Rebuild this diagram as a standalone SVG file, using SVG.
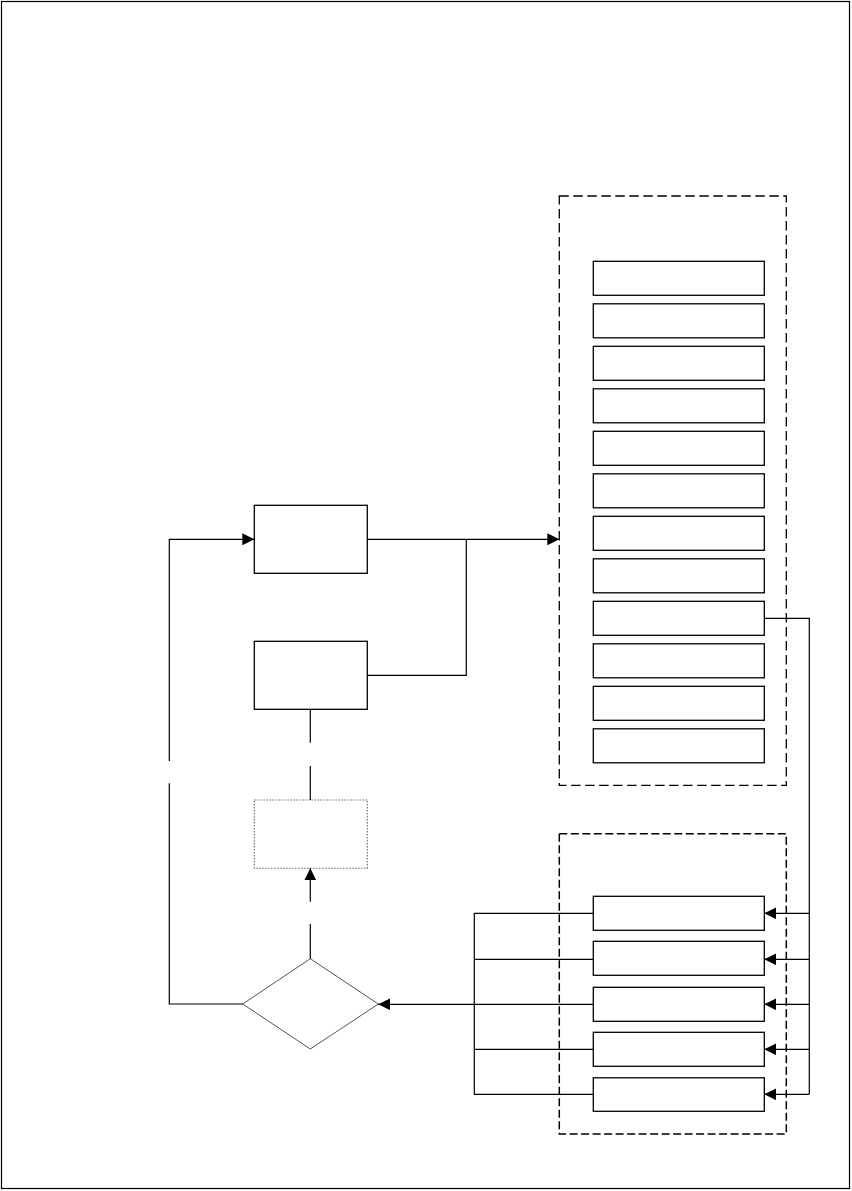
<svg xmlns="http://www.w3.org/2000/svg" width="852" height="1191" viewBox="0 0 852 1191">
<style>
.box{fill:#fff;stroke:#000;stroke-width:1.3}
.dot{fill:#fff;stroke:#666;stroke-width:1.1;stroke-dasharray:1.5 1.5}
.dia{fill:#fff;stroke:#555;stroke-width:1}
.cont{fill:none;stroke:#000;stroke-width:1.3;stroke-dasharray:9.5 4.5}
.cont2{fill:none;stroke:#000;stroke-width:1.5;stroke-dasharray:8 3.5}
.ln{fill:none;stroke:#000;stroke-width:1.2}
.arr{fill:none;stroke:#000;stroke-width:1.2;marker-end:url(#ah)}
</style>
<defs>
<marker id="ah" markerUnits="userSpaceOnUse" markerWidth="13" markerHeight="12" refX="12" refY="6" orient="auto">
<path d="M0,0 L12,6 L0,12 Z" fill="#000"/>
</marker>
</defs>
<rect x="1.5" y="1.5" width="848" height="1187" fill="#fff" stroke="#000" stroke-width="1.2"/>
<g id="containerTop"><rect class="cont" x="559.3" y="196" width="227" height="589.3"/></g>
<g id="containerBottom"><rect class="cont2" x="559.3" y="833.7" width="227" height="300.3"/></g>
<g id="listTop">
<rect class="box" x="593.3" y="261.3" width="171" height="34"/>
<rect class="box" x="593.3" y="303.8" width="171" height="34"/>
<rect class="box" x="593.3" y="346.3" width="171" height="34"/>
<rect class="box" x="593.3" y="388.8" width="171" height="34"/>
<rect class="box" x="593.3" y="431.3" width="171" height="34"/>
<rect class="box" x="593.3" y="473.8" width="171" height="34"/>
<rect class="box" x="593.3" y="516.3" width="171" height="34"/>
<rect class="box" x="593.3" y="558.8" width="171" height="34"/>
<rect class="box" x="593.3" y="601.3" width="171" height="34"/>
<rect class="box" x="593.3" y="643.8" width="171" height="34"/>
<rect class="box" x="593.3" y="686.3" width="171" height="34"/>
<rect class="box" x="593.3" y="728.8" width="171" height="34"/>
</g>
<g id="listBottom">
<rect class="box" x="593.3" y="896.3" width="171" height="34"/>
<rect class="box" x="593.3" y="941.3" width="171" height="34"/>
<rect class="box" x="593.3" y="987.3" width="171" height="34"/>
<rect class="box" x="593.3" y="1032.3" width="171" height="34"/>
<rect class="box" x="593.3" y="1077.8" width="171" height="33.5"/>
</g>
<g id="box1"><rect class="box" x="254.3" y="505.3" width="113" height="68"/></g>
<g id="box2"><rect class="box" x="254.3" y="641.3" width="113" height="68"/></g>
<g id="box3"><rect class="dot" x="254.3" y="800" width="113" height="68.3"/></g>
<g id="decision"><polygon class="dia" points="310.3,958.7 378.3,1004 310.3,1049 242.7,1004"/></g>
<g id="connectors">
<path class="arr" d="M169.3,761 V539.3 H254.3"/>
<path class="ln" d="M169.3,783.3 V1004 H242.7"/>
<path class="arr" d="M367.3,539.3 H559.3"/>
<path class="ln" d="M367.3,675.3 H466.3 V539.3"/>
<path class="ln" d="M310.3,709.3 V742.7"/>
<path class="ln" d="M310.3,766 V800"/>
<path class="arr" d="M310.3,901.7 V868.3"/>
<path class="ln" d="M310.3,924 V958.7"/>
<path class="ln" d="M764.3,618.3 H809.3 V1094.3"/>
<path class="arr" d="M809.3,913.3 H764.3"/>
<path class="arr" d="M809.3,959.3 H764.3"/>
<path class="arr" d="M809.3,1004.3 H764.3"/>
<path class="arr" d="M809.3,1049.3 H764.3"/>
<path class="arr" d="M809.3,1094.3 H764.3"/>
<path class="ln" d="M593.3,913.3 H474.3 V1094.3 H593.3"/>
<path class="ln" d="M474.3,959.3 H593.3"/>
<path class="ln" d="M474.3,1049.3 H593.3"/>
<path class="arr" d="M593.3,1004.3 H378.3"/>
</g>
</svg>
